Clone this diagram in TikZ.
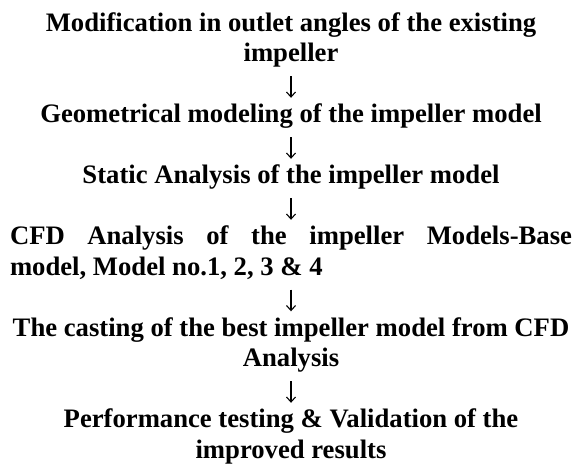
\documentclass[tikz,border=0pt]{standalone}
\usepackage{fontspec}
\setmainfont{Liberation Serif}
\usetikzlibrary{arrows.meta}
\hyphenpenalty=10000
\exhyphenpenalty=10000
\begin{document}
\begin{tikzpicture}[x=1pt,y=-1pt,
  stepbox/.style={anchor=base, inner sep=0pt, text width=562pt, align=flush center,
    font=\fontsize{26.67}{30.5}\selectfont\bfseries},
  flow/.style={-{Straight Barb[length=5pt,width=9pt]}, line width=1.1pt,
    shorten <=5.35pt, shorten >=3.15pt}]
\useasboundingbox (0,0) rectangle (577,464);
\node[stepbox] (a) at (291,31) {\strut Modification in outlet angles of the existing\\impeller\strut};
\node[stepbox] (b) at (291,122.5) {\strut Geometrical modeling of the impeller model\strut};
\node[stepbox] (c) at (291,183.5) {\strut Static Analysis of the impeller model\strut};
\node[stepbox, align=justify] (d) at (291,244.5) {\strut CFD Analysis of the impeller Models-Base\linebreak model, Model no.1, 2, 3 \& 4\strut};
\node[stepbox] (e) at (291,336) {\strut The casting of the best impeller model from CFD\\Analysis\strut};
\node[stepbox] (f) at (291,427.5) {\strut Performance testing \& Validation of the\\improved results\strut};
\draw[flow] (a) -- (b);
\draw[flow] (b) -- (c);
\draw[flow] (c) -- (d);
\draw[flow] (d) -- (e);
\draw[flow] (e) -- (f);
\end{tikzpicture}
\end{document}
